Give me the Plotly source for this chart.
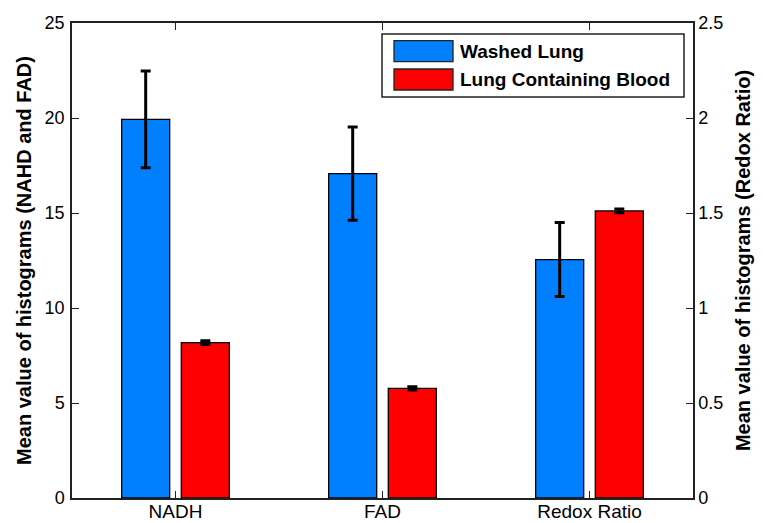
import plotly.graph_objects as go

categories = ["NADH", "FAD", "Redox Ratio"]
series_names = ["Washed Lung", "Lung Containing Blood"]
# NADH and FAD (left axis)
washed_left = [19.93, 17.07]
washed_left_err = [2.55, 2.45]
blood_left = [8.18, 5.77]
blood_left_err = [0.10, 0.08]
# Redox ratio (right axis)
washed_ratio = [1.255]
washed_ratio_err = [0.195]
blood_ratio = [1.511]
blood_ratio_err = [0.01]

blue = "#0080FF"
red = "#FF0000"
FONT = "Liberation Sans, Arial, sans-serif"

xpos = [1, 2, 3]
bar_w = 0.232
off_blue = -0.26
off_red = 0.028

fig = go.Figure()

def add_bar(x, y, err, color, yaxis, name):
    fig.add_trace(go.Bar(
        x=x, y=y, name=name, yaxis=yaxis, width=bar_w,
        offset=off_blue if color == blue else off_red,
        marker=dict(color=color, line=dict(color="black", width=1.3)),
        error_y=dict(type="data", array=err, visible=True, color="black",
                     thickness=3, width=5),
        showlegend=False,
    ))

add_bar(xpos[:2], washed_left, washed_left_err, blue, "y", series_names[0])
add_bar(xpos[:2], blood_left, blood_left_err, red, "y", series_names[1])
add_bar(xpos[2:], washed_ratio, washed_ratio_err, blue, "y2", series_names[0])
add_bar(xpos[2:], blood_ratio, blood_ratio_err, red, "y2", series_names[1])

L, R, T, B = 72, 70, 23, 25
W, H = 763, 523
pw, ph = W - L - R, H - T - B

def px(x):
    return (x - L) / pw

def py(y):
    return (H - B - y) / ph

shapes = [
    dict(type="rect", xref="paper", yref="paper", x0=px(382), x1=px(684), y0=py(97), y1=py(34),
         line=dict(color="#222", width=1.5), fillcolor="white", layer="above"),
    dict(type="rect", xref="paper", yref="paper", x0=px(394), x1=px(453), y0=py(61.7), y1=py(40.7),
         line=dict(color="#222", width=1.3), fillcolor=blue, layer="above"),
    dict(type="rect", xref="paper", yref="paper", x0=px(394), x1=px(453), y0=py(90), y1=py(69),
         line=dict(color="#222", width=1.3), fillcolor=red, layer="above"),
]
annotations = [
    dict(xref="paper", yref="paper", x=px(458), y=py(51), text="<b>" + series_names[0] + "</b>",
         showarrow=False, xanchor="left", yanchor="middle", font=dict(family=FONT, size=19, color="black")),
    dict(xref="paper", yref="paper", x=px(458), y=py(79.5), text="<b>" + series_names[1] + "</b>",
         showarrow=False, xanchor="left", yanchor="middle", font=dict(family=FONT, size=19, color="black")),
]

fig.update_layout(
    width=W, height=H,
    margin=dict(l=L, r=R, t=T, b=B, autoexpand=False),
    paper_bgcolor="white", plot_bgcolor="white",
    barmode="overlay",
    font=dict(family=FONT, color="black"),
    shapes=shapes, annotations=annotations,
    xaxis=dict(
        range=[0.5, 3.5], tickvals=xpos, ticktext=categories,
        ticks="inside", ticklen=7, tickcolor="#222", mirror="ticks",
        showline=True, linecolor="#222", linewidth=1.5, showgrid=False, zeroline=False,
        tickfont=dict(family=FONT, size=19, color="black"), ticklabelstandoff=-5,
    ),
    yaxis=dict(
        range=[0, 25], dtick=5, ticks="inside", ticklen=7, tickcolor="#222",
        showline=True, linecolor="#222", linewidth=1.5, showgrid=False, zeroline=False,
        tickfont=dict(family=FONT, size=18, color="black"), ticklabelstandoff=2,
        title=dict(text="<b>Mean value of histograms (NAHD and FAD)</b>", standoff=8,
                   font=dict(family=FONT, size=20, color="black")),
        automargin=False,
    ),
    yaxis2=dict(
        range=[0, 2.5], dtick=0.5, overlaying="y", side="right", anchor="x",
        ticks="inside", ticklen=7, tickcolor="#222",
        showline=True, linecolor="#222", linewidth=1.5, showgrid=False, zeroline=False,
        tickfont=dict(family=FONT, size=18, color="black"),
        title=dict(text="<b>Mean value of histograms (Redox Ratio)</b>", standoff=14,
                   font=dict(family=FONT, size=20, color="black")),
        automargin=False,
    ),
)

fig.write_html("out.html")
